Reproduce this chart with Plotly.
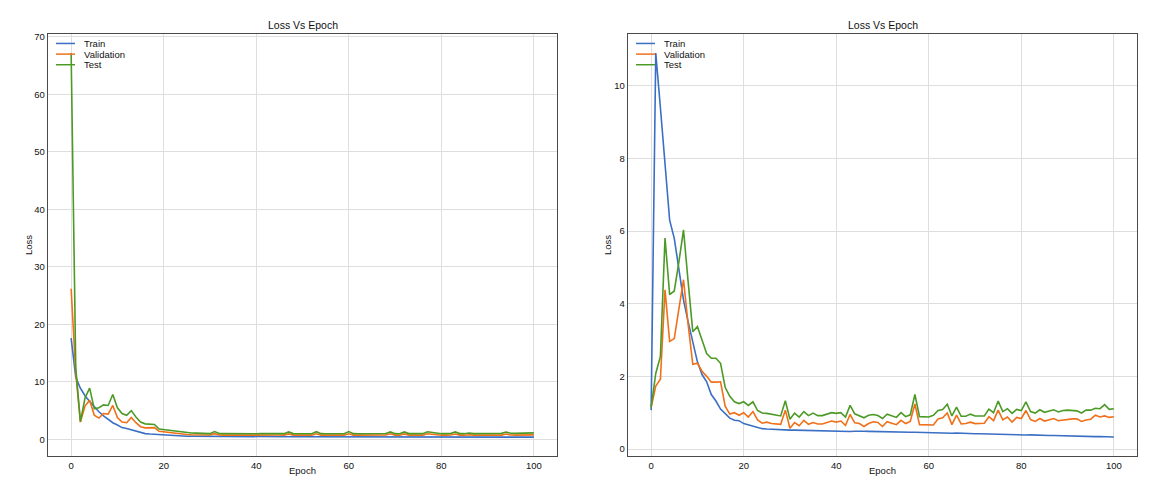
import plotly.graph_objects as go

epochs = list(range(101))

# ---- Left panel data ----
left_train = [17.6, 10.8, 8.9, 7.6, 6.6, 5.7, 4.8, 4.1, 3.5, 2.9,
              2.5, 2.05, 1.9, 1.65, 1.45, 1.2, 1.0, 0.92, 0.86, 0.8,
              0.72, 0.66, 0.6, 0.56, 0.54, 0.53, 0.53, 0.52, 0.52, 0.51,
              0.51, 0.51, 0.50, 0.50, 0.50, 0.49, 0.49, 0.49, 0.48, 0.48,
              0.48, 0.48, 0.47, 0.47, 0.47, 0.47, 0.46, 0.46, 0.46, 0.46,
              0.46, 0.45, 0.45, 0.45, 0.45, 0.45, 0.44, 0.44, 0.44, 0.44,
              0.44, 0.44, 0.43, 0.43, 0.43, 0.43, 0.43, 0.43, 0.42, 0.42,
              0.42, 0.42, 0.42, 0.42, 0.42, 0.41, 0.41, 0.41, 0.41, 0.41,
              0.41, 0.41, 0.41, 0.40, 0.40, 0.40, 0.40, 0.40, 0.40, 0.40,
              0.40, 0.40, 0.39, 0.39, 0.39, 0.39, 0.39, 0.39, 0.39, 0.39, 0.39]
left_val = [26.2, 11.5, 3.0, 5.8, 6.8, 4.2, 3.7, 4.5, 4.4, 5.9,
            3.8, 3.0, 2.9, 3.8, 2.9, 2.2, 2.0, 2.0, 2.05, 1.4,
            1.3, 1.25, 1.05, 1.0, 0.9, 0.85, 0.8, 0.78, 0.78, 0.76,
            0.75, 1.0, 0.76, 0.74, 0.75, 0.76, 0.73, 0.74, 0.75, 0.74,
            0.73, 0.74, 0.75, 0.74, 0.73, 0.75, 0.74, 0.95, 0.74, 0.73,
            0.74, 0.75, 0.73, 0.98, 0.74, 0.73, 0.74, 0.75, 0.74, 0.73,
            0.98, 0.74, 0.73, 0.74, 0.75, 0.74, 0.73, 0.74, 0.75, 0.96,
            0.74, 0.73, 0.95, 0.74, 0.75, 0.74, 0.73, 0.97, 0.90, 0.74,
            0.73, 0.74, 0.75, 0.93, 0.74, 0.73, 0.80, 0.74, 0.75, 0.74,
            0.73, 0.74, 0.75, 0.74, 0.92, 0.76, 0.74, 0.75, 0.76, 0.77, 0.78]
left_test = [67.2, 12.5, 3.1, 7.2, 8.9, 5.3, 5.5, 6.0, 5.9, 7.8,
             5.5, 4.5, 4.2, 5.0, 3.9, 3.0, 2.7, 2.6, 2.6, 1.8,
             1.7, 1.6, 1.5, 1.35, 1.3, 1.2, 1.1, 1.08, 1.05, 1.02,
             1.0, 1.35, 1.02, 1.0, 0.98, 1.0, 0.99, 0.98, 1.0, 0.99,
             0.98, 0.99, 1.0, 0.99, 0.98, 1.0, 0.99, 1.3, 1.0, 0.98,
             0.99, 1.0, 0.98, 1.33, 0.99, 0.98, 1.0, 0.99, 1.0, 0.98,
             1.35, 1.0, 0.98, 0.99, 1.0, 0.99, 0.98, 1.0, 1.02, 1.3,
             0.99, 0.98, 1.3, 1.0, 1.02, 1.0, 0.99, 1.32, 1.2, 1.0,
             0.99, 1.0, 1.02, 1.3, 1.0, 0.99, 1.1, 1.0, 1.02, 1.0,
             0.99, 1.0, 1.02, 1.05, 1.28, 1.06, 1.05, 1.06, 1.08, 1.1, 1.12]

# ---- Right panel data ----
right_train = [1.07, 10.9, 9.4, 7.9, 6.3, 5.8, 4.9, 4.1, 3.5, 2.95,
               2.4, 2.05, 1.85, 1.5, 1.32, 1.1, 0.96, 0.85, 0.79, 0.78,
               0.7, 0.66, 0.62, 0.58, 0.56, 0.55, 0.54, 0.535, 0.53, 0.53,
               0.52, 0.52, 0.515, 0.51, 0.51, 0.505, 0.5, 0.5, 0.5, 0.495,
               0.49, 0.49, 0.485, 0.48, 0.49, 0.5, 0.49, 0.485, 0.48, 0.48,
               0.475, 0.48, 0.47, 0.47, 0.465, 0.465, 0.46, 0.46, 0.455, 0.45,
               0.45, 0.445, 0.45, 0.44, 0.44, 0.435, 0.44, 0.43, 0.425, 0.43,
               0.42, 0.42, 0.415, 0.41, 0.41, 0.405, 0.40, 0.40, 0.395, 0.39,
               0.39, 0.385, 0.39, 0.38, 0.375, 0.375, 0.37, 0.37, 0.365, 0.365,
               0.36, 0.355, 0.36, 0.35, 0.35, 0.345, 0.34, 0.345, 0.34, 0.335, 0.33]
right_val = [1.15, 1.73, 1.92, 4.38, 2.96, 3.04, 3.86, 4.66, 3.42, 2.33,
             2.36, 2.14, 2.0, 1.84, 1.84, 1.85, 1.18, 0.96, 1.0, 0.93,
             1.0, 0.88, 1.03, 0.8, 0.71, 0.74, 0.7, 0.68, 0.68, 1.07,
             0.57, 0.73, 0.64, 0.79, 0.68, 0.73, 0.69, 0.69, 0.72, 0.77,
             0.74, 0.77, 0.65, 0.95, 0.72, 0.70, 0.62, 0.70, 0.75, 0.73,
             0.62, 0.75, 0.71, 0.67, 0.79, 0.70, 0.76, 1.24, 0.67, 0.66,
             0.65, 0.66, 0.83, 0.86, 0.99, 0.67, 0.93, 0.69, 0.70, 0.74,
             0.70, 0.70, 0.71, 0.89, 0.78, 1.07, 0.80, 0.88, 0.74, 0.87,
             0.84, 1.06, 0.81, 0.76, 0.84, 0.77, 0.80, 0.84, 0.78, 0.80,
             0.83, 0.83, 0.83, 0.76, 0.80, 0.82, 0.93, 0.88, 0.91, 0.87, 0.89]
right_test = [1.15, 2.08, 2.55, 5.81, 4.25, 4.35, 5.15, 6.03, 4.6, 3.23,
              3.37, 3.0, 2.63, 2.5, 2.5, 2.36, 1.7, 1.45, 1.3, 1.25,
              1.3, 1.2, 1.3, 1.06, 0.99, 0.98, 0.95, 0.92, 0.91, 1.33,
              0.82, 0.99, 0.88, 1.03, 0.92, 0.99, 0.92, 0.92, 0.95, 1.0,
              0.98, 1.0, 0.88, 1.2, 0.97, 0.91, 0.86, 0.93, 0.95, 0.92,
              0.84, 0.96, 0.91, 0.87, 1.0, 0.89, 0.94, 1.5, 0.89, 0.88,
              0.88, 0.93, 1.06, 1.09, 1.23, 0.91, 1.15, 0.9, 0.9, 0.96,
              0.91, 0.91, 0.91, 1.1, 1.0, 1.32, 1.03, 1.11, 0.98, 1.09,
              1.06, 1.3, 1.03, 0.99, 1.08, 1.01, 1.04, 1.08, 1.02, 1.06,
              1.07, 1.07, 1.05, 0.99, 1.07, 1.07, 1.12, 1.11, 1.22, 1.09, 1.11]

series_names = ["Train", "Validation", "Test"]
colors = ["#3a6fc4", "#f0701a", "#4c9a26"]

W, H = 1170, 501
def px(x):
    return x / W
def py(y):
    return 1 - y / H

fig = go.Figure()
left = [left_train, left_val, left_test]
right = [right_train, right_val, right_test]
for name, col, ys in zip(series_names, colors, left):
    fig.add_trace(go.Scatter(x=epochs, y=ys, mode="lines", name=name,
                             line=dict(color=col, width=1.6),
                             xaxis="x", yaxis="y", showlegend=False))
for name, col, ys in zip(series_names, colors, right):
    fig.add_trace(go.Scatter(x=epochs, y=ys, mode="lines", name=name,
                             line=dict(color=col, width=1.6),
                             xaxis="x2", yaxis="y2", showlegend=False))

font_family = "Liberation Sans, Arial, sans-serif"
axis_common = dict(showgrid=True, gridcolor="#dedede", gridwidth=1.3,
                   showline=True, linecolor="#4a4a4a", linewidth=1.4, mirror=True,
                   zeroline=False, ticks="", tickfont=dict(size=9.5, color="#111", family=font_family))

fig.update_layout(
    width=W, height=H,
    margin=dict(l=0, r=0, t=0, b=0),
    paper_bgcolor="white", plot_bgcolor="white",
    font=dict(family=font_family, color="#111"),
    xaxis=dict(domain=[px(48), px(557)], range=[-5, 105], tickmode="linear", tick0=0, dtick=20,
               anchor="y", **axis_common),
    yaxis=dict(domain=[py(456), py(31)], range=[-2.94, 70.54], tickmode="linear", tick0=0, dtick=10,
               anchor="x", **axis_common),
    xaxis2=dict(domain=[px(628), px(1137)], range=[-5, 105], tickmode="linear", tick0=0, dtick=20,
                anchor="y2", **axis_common),
    yaxis2=dict(domain=[py(456), py(31)], range=[-0.2, 11.43], tickmode="linear", tick0=0, dtick=2,
                anchor="x2", **axis_common),
)

annotations = []
shapes = []
for cx, lx in [((48 + 557) / 2, 28), ((628 + 1137) / 2, 607)]:
    annotations.append(dict(x=px(cx), y=py(22), xref="paper", yref="paper", text="Loss Vs Epoch",
                            showarrow=False, font=dict(size=10.5, color="#111"), xanchor="center", yanchor="middle"))
    annotations.append(dict(x=px(cx), y=py(470), xref="paper", yref="paper", text="Epoch",
                            showarrow=False, font=dict(size=9.5, color="#111"), xanchor="center", yanchor="middle"))
    annotations.append(dict(x=px(lx), y=py(243.5), xref="paper", yref="paper", text="Loss", textangle=-90,
                            showarrow=False, font=dict(size=9.5, color="#111"), xanchor="center", yanchor="middle"))

# legends (drawn compactly, matching the reference spacing)
for x0, x1, tx in [(56, 75, 82), (636, 655, 662)]:
    for i, (name, col) in enumerate(zip(series_names, colors)):
        yy = 40.7 + i * 10.7
        shapes.append(dict(type="line", xref="paper", yref="paper", x0=px(x0), x1=px(x1),
                           y0=py(yy), y1=py(yy), line=dict(color=col, width=1.5)))
        annotations.append(dict(x=px(tx), y=py(yy), xref="paper", yref="paper", text=name,
                                showarrow=False, font=dict(size=9.5, color="#111"),
                                xanchor="left", yanchor="middle"))

fig.update_layout(annotations=annotations, shapes=shapes)
fig.write_html("out.html", config={"displayModeBar": False},
               post_script="document.body.style.margin='0px';document.body.style.padding='0px';")
